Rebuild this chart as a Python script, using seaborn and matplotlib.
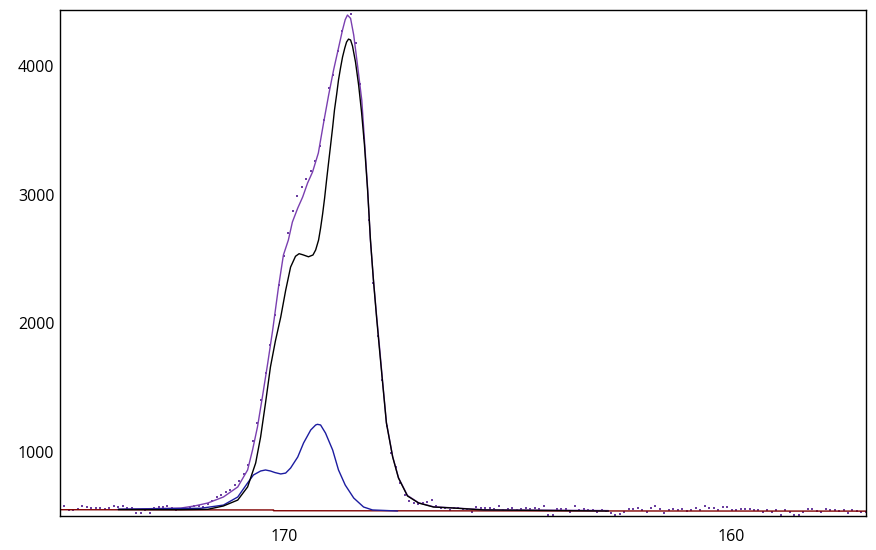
import numpy as np
import pandas as pd
import matplotlib
matplotlib.use("Agg")
import matplotlib.pyplot as plt
import seaborn as sns

# measured counts, 0.1 eV steps from 175.0 down to 157.0
be = np.round(np.arange(175.0, 156.95, -0.1), 1)
counts = [
    593, 575, 548, 545, 556, 575, 572, 560, 562, 560,
    558, 560, 580, 568, 578, 560, 565, 526, 526, 545,
    526, 560, 568, 572, 580, 560, 545, 555, 565, 572,
    575,
    580, 572, 593, 620, 648, 660, 690, 705, 740, 770,
    830, 900, 1080, 1220, 1400, 1610, 1830, 2060, 2300, 2520,
    2700, 2870, 2990, 3060, 3120, 3180, 3260, 3380, 3580, 3830,
    3930, 4120, 4270, 4440, 4403, 4180, 3860, 3440, 2800, 2310,
    1900, 1560, 1200, 990, 880, 760, 660, 620, 600, 590,
    600, 610, 625, 575, 560, 565, 550, 560,
    560, 557, 555, 531, 570, 560, 560, 562, 552, 578,
    547, 557, 562, 547, 552, 560, 557, 560, 552, 578,
    508, 508, 557, 555, 557, 531, 580, 547, 552, 547,
    547, 534, 547, 540, 521, 508, 516, 534, 552, 557,
    560, 547, 534, 560, 578, 552, 526, 549, 552, 547,
    557, 536, 547, 560, 547, 578, 565, 560, 547, 572,
    572, 547, 547, 552, 557, 555, 547, 547, 534, 547,
    534, 547, 505, 547, 534, 508, 508, 534, 555, 557,
    539, 534, 555, 547, 547, 536, 547, 521, 547, 539,
    529, 534,
]

# envelope of the fit
env_x = [173.7, 172.3, 172.0, 171.7, 171.35, 171.03, 170.81, 170.7, 170.59, 170.48,
         170.36, 170.25, 170.12, 170.01, 169.9, 169.81, 169.69, 169.58, 169.47, 169.36,
         169.23, 169.11, 169.0, 168.89, 168.8, 168.69, 168.63, 168.58, 168.51, 168.44,
         168.35, 168.26, 168.2, 168.13, 168.07, 168.0, 167.93, 167.86, 167.8, 167.71,
         167.57, 167.44, 167.24, 166.99, 166.66, 166.21, 165.54, 162.75]
env_y = [552, 562, 578, 601, 648, 726, 858, 1013, 1192, 1425,
         1690, 1946, 2281, 2530, 2646, 2786, 2895, 2981, 3090, 3175,
         3323, 3564, 3774, 3968, 4108, 4280, 4360, 4396, 4370, 4240,
         3991, 3734, 3423, 3050, 2660, 2340, 2060, 1800, 1565, 1228,
         962, 798, 660, 603, 572, 563, 549, 542]

# main component
main_x = [173.7, 172.3, 171.7, 171.35, 171.03, 170.81, 170.63, 170.52, 170.41, 170.3,
          170.19, 170.07, 169.96, 169.85, 169.74, 169.66, 169.58, 169.45, 169.35, 169.29,
          169.225, 169.18, 169.135, 169.09, 169.046, 169.0, 168.956, 168.91, 168.87, 168.82,
          168.78, 168.735, 168.69, 168.64, 168.6, 168.556, 168.51, 168.467, 168.4, 168.33,
          168.265, 168.2, 168.13, 168.066, 168.0, 167.93, 167.863, 167.8, 167.71, 167.57,
          167.44, 167.24, 166.99, 166.66, 166.21, 165.54, 162.75]
main_y = [550, 549, 552, 578, 624, 726, 912, 1114, 1379, 1659,
          1860, 2047, 2255, 2436, 2520, 2540, 2532, 2516, 2530, 2569,
          2646, 2739, 2848, 2973, 3113, 3253, 3385, 3525, 3657, 3782,
          3891, 3984, 4069, 4139, 4186, 4209, 4202, 4155, 4030, 3851,
          3641, 3385, 3034, 2646, 2335, 2047, 1790, 1556, 1223, 959,
          795, 656, 601, 570, 562, 547, 539]

# doublet component
dbl_x = [173.7, 171.86, 171.35, 171.03, 170.81, 170.68, 170.52, 170.41, 170.3, 170.2,
         170.07, 169.96, 169.85, 169.69, 169.56, 169.4, 169.29, 169.25, 169.18, 169.07,
         168.91, 168.78, 168.63, 168.44, 168.22, 168.02, 167.46]
dbl_y = [552, 560, 585, 648, 757, 819, 850, 858, 850, 838,
         827, 834, 873, 959, 1068, 1169, 1208, 1213, 1208, 1145,
         1013, 858, 741, 640, 570, 547, 539]

# background
bg_x = [175.0, 170.23, 170.23, 157.0]
bg_y = [549, 547, 541, 538]

sns.set_style("white")
plt.rcParams['font.family'] = ['Open Sans', 'DejaVu Sans']

fig = plt.figure(figsize=(8.76, 5.5), dpi=100)
ax = fig.add_axes([0.0685, 0.0618, 0.92, 0.9195])

sns.lineplot(x=bg_x, y=bg_y, sort=False, estimator=None, color="#800000", lw=1, ax=ax)
sns.lineplot(x=env_x, y=env_y, sort=False, estimator=None, color="#7a3fb0", lw=1, ax=ax)
sns.lineplot(x=dbl_x, y=dbl_y, sort=False, estimator=None, color="#1c1ca0", lw=1, ax=ax)
sns.lineplot(x=main_x, y=main_y, sort=False, estimator=None, color="black", lw=1, ax=ax)
sns.scatterplot(x=be, y=counts, marker="s", s=3.5, color="#6b3fa0", linewidth=0, ax=ax)

ax.set_xlim(175, 157)
ax.set_ylim(500, 4433)
ax.set_xticks([170, 160])
ax.set_yticks([1000, 2000, 3000, 4000])
ax.tick_params(axis="x", direction="in", length=3, width=1, pad=9.5, labelsize=11.5, colors="black")
ax.tick_params(axis="y", direction="out", length=3, width=1, pad=1, labelsize=11.5, colors="black")
for s in ax.spines.values():
    s.set_color("black")
    s.set_linewidth(1)
ax.set_xlabel("")
ax.set_ylabel("")

fig.savefig("out.png", dpi=100)
